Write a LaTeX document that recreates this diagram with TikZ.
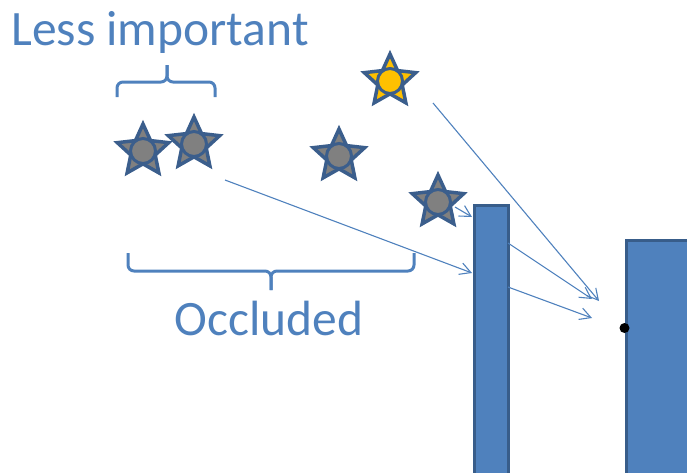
\documentclass[tikz,border=0pt]{standalone}
\usepackage{fontspec}
\setmainfont{Carlito}
\usetikzlibrary{shapes.geometric,arrows.meta}
\definecolor{accent}{HTML}{4F81BD}
\definecolor{bord}{HTML}{385D8A}
\definecolor{trait}{HTML}{3B5E8C}
\definecolor{soleil}{HTML}{FFC000}

\begin{document}
\begin{tikzpicture}[x=1pt,y=-1pt]
\tikzstyle{rayon}=[-{Straight Barb[length=11pt,width=12pt]},accent,line width=1.1pt]
\tikzstyle{accolade}=[accent,line width=3pt,rounded corners=6pt]
\tikzset{etoile/.style={star,star points=5,star point ratio=2.1,minimum size=54pt,inner sep=0pt,draw=trait,line width=3.5pt,fill=#1},
etoile/.default={gray},
rond/.style={circle,minimum size=25pt,inner sep=0pt,draw=trait,line width=3pt,fill=#1},
rond/.default={gray},
mur/.style={rectangle,draw=bord,line width=3pt,fill=accent,inner sep=0pt,anchor=north west},
texte/.style={text=accent,font=\fontsize{49.5}{54}\selectfont,anchor=base}}
\useasboundingbox (0,0) rectangle (687,472);
\clip (0,0) rectangle (687,472);

% les murs
\node[mur,minimum width=34pt,minimum height=290pt] (murA) at (472.5,203.5) {};
\node[mur,minimum width=80pt,minimum height=250pt] (murB) at (624.5,238.5) {};
\node[circle,fill=black,minimum size=10pt,inner sep=0pt] (oeil) at (624.5,328) {};

% les etoiles
\foreach \nom/\x/\y in {S1/143/151,S2/194/144,S3/339/156,S4/438/202}{
\node[etoile] (\nom) at (\x,\y) {};
\node[rond] (\nom c) at (\nom) {};
}
\node[etoile=soleil] (S5) at (390,81) {};
\node[rond=soleil] (S5c) at (S5) {};

% les rayons
\coordinate (dA) at (433,103);
\coordinate (fA) at (599,301);
\coordinate (dB) at (455,207);
\coordinate (fB) at (472,217);
\coordinate (dC) at (225,180);
\coordinate (fC) at (472,273);
\coordinate (dD) at (508,243);
\coordinate (fD) at (592,299);
\coordinate (dE) at (508,287);
\coordinate (fE) at (592,318);
\draw[rayon] (dA) -- (fA);
\draw[rayon] (dB) -- (fB);
\draw[rayon] (dC) -- (fC);
\draw[rayon] (dD) -- (fD);
\draw[rayon] (dE) -- (fE);

% les accolades
\draw[accolade] (117,97) -- (117,82) -- (167,82) -- (167,65);
\draw[accolade] (215,97) -- (215,82) -- (167,82) -- (167,65);
\draw[accolade] (128,253) -- (128,271) -- (271,271) -- (271,290);
\draw[accolade] (414,253) -- (414,271) -- (271,271) -- (271,290);

\node[texte] (moins) at (160,45) {Less important};
\node[texte] (cache) at (269,335) {Occluded};
\end{tikzpicture}
\end{document}
